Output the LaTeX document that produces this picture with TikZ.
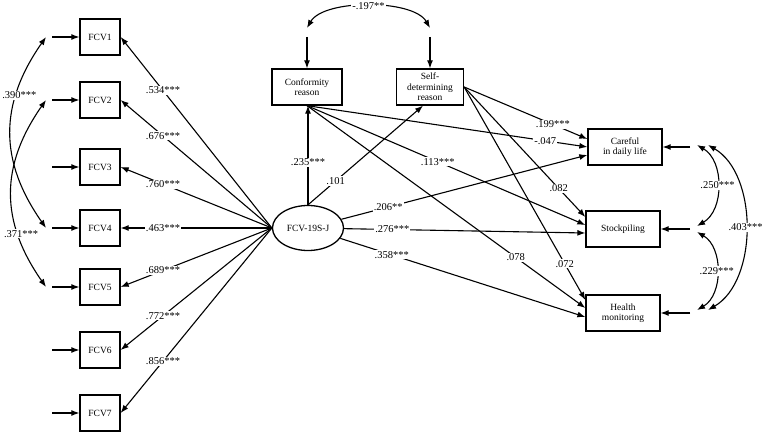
\documentclass[tikz,border=0pt]{standalone}
\usepackage{fontspec}
\setmainfont{Liberation Serif}
\usetikzlibrary{positioning, arrows.meta, calc, shapes.geometric}

\begin{document}
\begin{tikzpicture}[
    x=1pt, y=1pt,
    every node/.style={align=center},
    obs/.style={rectangle, draw, line width=1.3pt, minimum height=36pt, inner sep=1pt, font=\fontsize{9.5}{10.5}\selectfont},
    lat/.style={ellipse, draw, line width=1.3pt, minimum width=71pt, minimum height=45pt, inner sep=0pt, font=\fontsize{9.5}{10.5}\selectfont},
    reg/.style={-{Latex[length=8pt,width=6pt]}, line width=1.1pt},
    cov/.style={{Latex[length=8pt,width=6pt]}-{Latex[length=8pt,width=6pt]}, line width=1.1pt},
    coef/.style={fill=white, inner sep=1pt, font=\fontsize{10.5}{12}\selectfont}
]
\useasboundingbox (0,0) rectangle (769,-433);

% indicators
\node[obs, minimum width=40pt] (fcv1) at (100,-37) {FCV1};
\node[obs, minimum width=40pt] (fcv2) at (100,-100) {FCV2};
\node[obs, minimum width=40pt] (fcv3) at (100,-167) {FCV3};
\node[obs, minimum width=40pt] (fcv4) at (100,-228) {FCV4};
\node[obs, minimum width=40pt] (fcv5) at (100,-287) {FCV5};
\node[obs, minimum width=40pt] (fcv6) at (100,-350) {FCV6};
\node[obs, minimum width=40pt] (fcv7) at (100,-413) {FCV7};

% latent factor
\node[lat] (fcv) at (308,-228) {FCV-19S-J};

% reasons
\node[obs, minimum width=70pt] (conf) at (307,-87) {Conformity\\reason};
\node[obs, minimum width=67pt] (self) at (430,-87) {Self-\\determining\\reason};

% outcomes
\node[obs, minimum width=74pt] (care) at (625,-147) {Careful\\in daily life};
\node[obs, minimum width=74pt] (stock) at (623,-229) {Stockpiling};
\node[obs, minimum width=74pt] (health) at (623,-313) {Health\\monitoring};

% error terms
\coordinate (e1) at (52,-37);
\coordinate (e2) at (52,-100);
\coordinate (e3) at (52,-167);
\coordinate (e4) at (52,-228);
\coordinate (e5) at (52,-287);
\coordinate (e6) at (52,-350);
\coordinate (e7) at (52,-413);
\coordinate (ec) at (307,-37);
\coordinate (es) at (430,-37);
\coordinate (r1) at (690,-147);
\coordinate (r2) at (690,-229);
\coordinate (r3) at (690,-313);

\draw[reg] (e1) -- (fcv1);
\draw[reg] (e2) -- (fcv2);
\draw[reg] (e3) -- (fcv3);
\draw[reg] (e4) -- (fcv4);
\draw[reg] (e5) -- (fcv5);
\draw[reg] (e6) -- (fcv6);
\draw[reg] (e7) -- (fcv7);
\draw[reg] (ec) -- (conf);
\draw[reg] (es) -- (self);
\draw[reg] (r1) -- (care);
\draw[reg] (r2) -- (stock);
\draw[reg] (r3) -- (health);

% ends of the covariances
\coordinate (c1) at (46,-37);
\coordinate (c2) at (46,-100);
\coordinate (c4) at (46,-228);
\coordinate (c5) at (46,-287);
\coordinate (t1) at (307,-28);
\coordinate (t2) at (430,-28);
\coordinate (v1) at (697,-145);
\coordinate (v2a) at (697,-226);
\coordinate (v2b) at (697,-232);
\coordinate (v3) at (697,-310);
\coordinate (w1) at (708,-145);
\coordinate (w3) at (708,-310);

% loadings
\draw[reg] (fcv.west) -- node[coef, pos=0.72] {.534***} (fcv1.east);
\draw[reg] (fcv.west) -- node[coef, pos=0.72] {.676***} (fcv2.east);
\draw[reg] (fcv.west) -- node[coef, pos=0.72] {.760***} (fcv3.east);
\draw[reg] (fcv.west) -- node[coef, pos=0.72] {.463***} (fcv4.east);
\draw[reg] (fcv.west) -- node[coef, pos=0.72] {.689***} (fcv5.east);
\draw[reg] (fcv.west) -- node[coef, pos=0.72] {.772***} (fcv6.east);
\draw[reg] (fcv.west) -- node[coef, pos=0.72] {.856***} (fcv7.east);

% paths from the reasons
\draw[reg] (conf.south) -- node[coef, pos=0.85] {-.047} (care.west);
\draw[reg] (conf.south) -- node[coef, pos=0.47] {.113***} ([yshift=4pt]stock.west);
\draw[reg] (conf.south) -- node[coef, pos=0.75] {.078} ([yshift=5pt]health.west);
\draw[reg] (self.east) -- node[coef, pos=0.72] {.199***} ([yshift=8pt]care.west);
\draw[reg] (self.east) -- node[coef, pos=0.78] {.082} ([yshift=12pt]stock.west);
\draw[reg] (self.east) -- node[coef, pos=0.83] {.072} ([yshift=13pt]health.west);

% paths from the factor
\draw[reg] (fcv.north) -- node[coef, pos=0.43] {.235***} (fcv.north |- conf.south);
\draw[reg] (fcv.north) -- node[coef, pos=0.24] {.101} ([xshift=-7pt]self.south);
\draw[reg] (fcv) -- node[coef, pos=0.19] {.206**} ([yshift=-8pt]care.west);
\draw[reg] (fcv) -- node[coef, pos=0.2] {.276***} ([yshift=-4pt]stock.west);
\draw[reg] (fcv) -- node[coef, pos=0.21] {.358***} ([yshift=-4pt]health.west);

% covariances
\draw[cov] (c1) to[out=235, in=125, looseness=1.1] node[coef, pos=0.3, xshift=3pt] {.390***} (c4);
\draw[cov] (c2) to[out=235, in=125, looseness=1.1] node[coef, pos=0.72, xshift=3pt] {.371***} (c5);
\draw[cov] (t1) to[out=60, in=120, looseness=0.7] node[coef] {-.197**} (t2);
\draw[cov] (v1) to[out=-30, in=30, looseness=1] node[coef] {.250***} (v2a);
\draw[cov] (v2b) to[out=-30, in=30, looseness=1] node[coef] {.229***} (v3);
\draw[cov] (w1) to[out=-30, in=30, looseness=0.9] node[coef] {.403***} (w3);

\end{tikzpicture}
\end{document}
